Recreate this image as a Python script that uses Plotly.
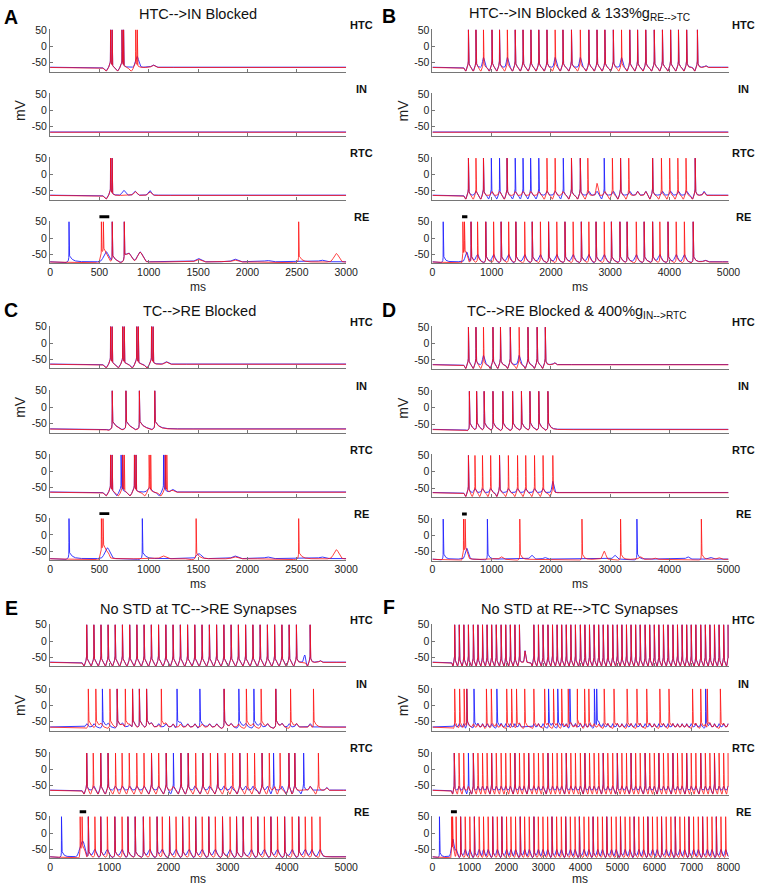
import numpy as np
import plotly.graph_objects as go

W, H = 767, 887

# ---------------- data (spike times in ms) ----------------
CELLS = ["HTC", "IN", "RTC", "RE"]
REST = {"HTC": -65, "IN": -67, "RTC": -64, "RE": -73}

# Panel A : HTC-->IN Blocked (0-3000 ms)
A_HTC_R_spk = [613, 729, 868]
A_HTC_R_sub = [(1044, 7)]
A_HTC_B_spk = [613, 729]
A_HTC_B_sub = [(882, 33), (1044, 7)]
A_IN_R_spk = []
A_IN_B_spk = []
A_RTC_R_spk = [613]
A_RTC_R_sub = [(862, 12), (1011, 10)]
A_RTC_B_spk = [613]
A_RTC_B_sub = [(746, 15), (862, 12), (1011, 14)]
A_RE_R_spk = [520, 540, 630, 752, 2519]
A_RE_R_sub = [(800, 22), (912, 30), (1500, 8), (1870, 6), (2900, 26)]
A_RE_B_spk = [192, 630, 752]
A_RE_B_sub = [(570, 32), (800, 22), (912, 30), (1500, 10), (1870, 8), (2200, 4), (2750, 5)]

# Panel B : HTC-->IN Blocked & 133% g RE-->TC (0-5000 ms)
B_HTC_R_spk = [608, 735, 862, 1006, 1133, 1265, 1398, 1530, 1663, 1796, 1934, 2072, 2204, 2348, 2497,
               2641, 2779, 2912, 3055, 3193, 3332, 3464, 3602, 3746, 3884, 4022, 4155, 4293, 4475]
B_HTC_R_sub = [(4613, 5)]
B_HTC_B_spk = [608, 735, 1006, 1133, 1398, 1530, 1663, 1796, 1934, 2204, 2348, 2641, 2779, 2912,
               3055, 3332, 3464, 3602, 3746, 3884, 4022, 4155, 4293, 4475]
B_HTC_B_sub = [(862, 30), (1265, 30), (2072, 30), (2497, 30), (3193, 30), (4613, 5)]
B_IN_R_spk = []
B_IN_B_spk = []
B_RTC_R_spk = [608, 735, 862, 1260, 1934, 2072, 2348, 2497, 2624, 3039, 3177, 3315, 3718, 3867, 4006,
               4144, 4282, 4437]
B_RTC_B_spk = [608, 862, 995, 1133, 1260, 1398, 1530, 1658, 1796, 2210, 2348, 2497, 2901, 3177, 3718, 4437]
B_RTC_R_sub = [(2779, 25), (4585, 10)]
B_RTC_B_sub = [(4585, 12)]
B_CYC = [608, 735, 862, 1006, 1133, 1265, 1398, 1530, 1663, 1796, 1934, 2072, 2204, 2348, 2497, 2641,
         2779, 2912, 3055, 3193, 3332, 3464, 3602, 3746, 3884, 4022, 4155, 4293, 4437]
B_RE_R_spk = [514, 541, 652, 762, 901, 1033, 1160, 1287, 1409, 1558, 1685, 1823, 1961, 2100, 2238, 2376,
              2514, 2641, 2763, 2901, 3022, 3166, 3287, 3442, 3575, 3718, 3840, 3978, 4116, 4254, 4403]
B_RE_R_sub = [(4600, 5)]
B_RE_B_spk = [182, 652, 901, 1160, 1409, 1685, 1961, 2238, 2514, 2763, 3022, 3166, 3287, 3575, 3718,
              3978, 4403]
B_RE_B_sub = [(580, 30), (4600, 5)]
B_RE_CYC = [762, 1033, 1287, 1558, 1823, 2100, 2376, 2641, 2901, 3442, 3840, 4116, 4254]

# Panel C : TC-->RE Blocked (0-3000 ms)
C_HTC_R_spk = [613, 736, 878, 1028]
C_HTC_R_sub = [(1177, 7)]
C_HTC_B_spk = [613, 736, 878, 1028]
C_HTC_B_sub = [(1177, 7)]
C_IN_R_spk = [630, 769, 905, 1061]
C_IN_B_spk = [630, 769, 905, 1061]
C_RTC_R_spk = [613, 736, 855, 1004, 1167]
C_RTC_R_sub = [(1240, 6)]
C_RTC_B_spk = [613, 720, 855, 1150]
C_RTC_B_sub = [(1004, 14), (1240, 8)]
C_RE_R_spk = [520, 537, 1480, 2519]
C_RE_R_sub = [(1144, 9), (1870, 6), (2900, 28)]
C_RE_B_spk = [192, 935]
C_RE_B_sub = [(580, 33), (1508, 15), (1870, 8), (2200, 5), (2750, 5)]

# Panel D : TC-->RE Blocked & 400% g IN-->RTC (0-5000 ms)
D_HTC_R_spk = [608, 735, 862, 1022, 1149, 1315, 1464, 1613, 1768, 1906]
D_HTC_R_sub = [(2061, 6)]
D_HTC_B_spk = [608, 735, 1022, 1149, 1315, 1613, 1768, 1906]
D_HTC_B_sub = [(862, 28), (1464, 28), (2061, 6)]
D_IN_R_spk = [624, 746, 873, 1022, 1188, 1354, 1503, 1646, 1796, 1950]
D_IN_B_spk = [624, 746, 873, 1022, 1188, 1354, 1503, 1646, 1796, 1950]
D_RTC_R_spk = [608, 718, 845, 983, 1133, 1282, 1437, 1575, 1724, 1868, 2033]
D_RTC_B_spk = [608, 1133]
D_RTC_B_sub = [(2033, 22)]
D_RE_R_spk = [525, 552, 1475, 2525, 3177, 4541]
D_RE_R_sub = [(1160, 8), (2900, 25), (3508, 8), (3750, 4), (4834, 5)]
D_RE_B_spk = [182, 928, 3453]
D_RE_B_sub = [(580, 33), (1674, 12), (1895, 5), (3077, 12), (4309, 7), (4696, 5)]

# Panel E : No STD at TC-->RE synapses (0-5000 ms)
E_HTC_R_spk = [619, 740, 860, 980, 1100, 1222, 1345, 1466, 1588, 1710, 1832, 1955, 2077, 2200, 2322,
               2444, 2566, 2690, 2812, 2935, 3057, 3180, 3302, 3425, 3547, 3670, 3792, 3915, 4037, 4160, 4392]
E_HTC_B_spk = [619, 740, 860, 980, 1100, 1222, 1345, 1466, 1588, 1710, 1832, 1955, 2077, 2200, 2322,
               2444, 2566, 2690, 2812, 2935, 3057, 3180, 3302, 3425, 3547, 3670, 3792, 3915, 4037, 4160, 4392]
E_HTC_B_sub = [(4300, 22), (4560, 5)]
E_HTC_R_sub = [(4560, 5)]
E_IN_R_spk = [646, 773, 1011, 1133, 1271, 1393, 1508, 1630, 1879, 2939, 3315, 3564, 3812, 4061, 4448]
E_IN_B_spk = [884, 1133, 1393, 1508, 1630, 2144, 2530, 2939, 3188, 3442, 3812]
E_RTC_R_spk = [619, 729, 856, 979, 1105, 1216, 1337, 1464, 1586, 1713, 1834, 1961, 2210, 2332, 2459,
               2580, 2707, 2829, 2956, 3083, 3204, 3332, 3453, 3580, 3702, 3884, 4033, 4133, 4531]
E_RTC_B_spk = [619, 856, 979, 1713, 1961, 2083, 2210, 2332, 2580, 2829, 3204, 3580, 3774, 4033, 4133, 4282]
E_RTC_sub = [(4670, 8)]
E_RE_R_spk = [508, 541, 646, 757, 856, 967, 1094, 1216, 1315, 1437, 1575, 1685, 1807, 1895, 2017, 2127,
              2238, 2348, 2459, 2569, 2680, 2790, 2912, 3039, 3149, 3260, 3398, 3508, 3619, 3729, 3840,
              3961, 4088, 4199, 4309, 4420, 4558]
E_RE_B_spk = [193, 646, 856, 1094, 1315, 1437, 1575, 1807, 2017, 2238, 2459, 2680, 2912, 3149, 3260,
              3508, 3729, 3961, 4199]
E_RE_B_sub = [(570, 30)]

# Panel F : No STD at RE-->TC synapses (0-8000 ms)
F_HTC_R_spk = [601, 725, 849, 972, 1105, 1229, 1353, 1476, 1600, 1724, 1856, 1980, 2104, 2228, 2351,
               2740, 2864, 2988, 3121, 3244, 3368, 3492, 3616, 3739, 3863, 3996, 4119, 4243, 4367, 4491,
               4614, 4738, 4871, 4995, 5118, 5242, 5366, 5490, 5613, 5746, 5870, 5994, 6117, 6241, 6365,
               6497, 6621, 6745, 6869, 6992, 7116, 7249, 7373, 7496, 7620, 7744, 7868, 7991]
F_HTC_B_spk = F_HTC_R_spk
F_HTC_sub = [(2502, 35)]
F_IN_R_spk = [601, 734, 857, 928, 1459, 1591, 2007, 2139, 2272, 2493, 2740, 3032, 3271, 3492, 3669, 3916,
              4111, 4226, 4641, 4906, 5260, 5525, 5790, 6144, 6391, 7028, 7249, 7426, 7779]
F_IN_B_spk = [928, 1123, 1741, 3138, 3386, 3713, 4376, 4438, 7381]
F_RTC_R_spk = [590, 718, 845, 1105, 1229, 1353, 1476, 1600, 1724, 1856, 1980, 2104, 2228, 2351, 2475,
               2600, 2740, 2864, 2988, 3121, 3244, 3368, 3492, 3616, 3739, 3863, 3996, 4119, 4243, 4367,
               4491, 4614, 4738, 4871, 4995, 5118, 5242, 5366, 5490, 5613, 5746, 5870, 5994, 6117, 6241,
               6365, 6497, 6621, 6745, 6869, 6992, 7116, 7249, 7373, 7496, 7620, 7744, 7868, 7991]
F_RTC_B_spk = [590, 972, 1105, 1600, 2228, 2600, 3121, 3616, 4119, 4614, 4995, 5366, 5746, 6117, 6497,
               6869, 7249, 7620]
F_RE_R_spk = [520, 545, 640, 762, 885, 1010, 1133, 1262, 1380, 1505, 1628, 1752, 1875, 2002, 2120, 2245,
              2372, 2490, 2615, 2742, 2860, 2985, 3112, 3230, 3355, 3482, 3600, 3725, 3852, 3970, 4095,
              4222, 4340, 4465, 4592, 4710, 4835, 4962, 5080, 5205, 5332, 5450, 5575, 5702, 5820, 5945,
              6072, 6190, 6315, 6442, 6560, 6685, 6812, 6930, 7055, 7182, 7300, 7425, 7552, 7670, 7795, 7922]
F_RE_B_spk = [190, 762, 1133, 1628, 1875, 2372, 2742, 3230, 3600, 3970, 4340, 4710, 5080, 5450, 5820,
              6190, 6560, 6930, 7300, 7670]
F_RE_B_sub = [(570, 30)]

# stimulus bars (ms) drawn above the RE traces
STIM = {"A": (500, 600), "B": (500, 590), "C": (500, 600), "D": (500, 580), "E": (500, 610), "F": (500, 660)}
DURATION = {"A": 3000, "B": 5000, "C": 3000, "D": 5000, "E": 5000, "F": 8000}
XSTEP = {"A": 500, "B": 1000, "C": 500, "D": 1000, "E": 1000, "F": 1000}
TITLES = {
    "A": "HTC-->IN Blocked",
    "B": "HTC-->IN Blocked & 133%g<sub>RE-->TC</sub>",
    "C": "TC-->RE Blocked",
    "D": "TC-->RE Blocked & 400%g<sub>IN-->RTC</sub>",
    "E": "No STD at TC-->RE Synapses",
    "F": "No STD at RE-->TC Synapses",
}

# trace specification: (spikes, subthreshold bumps, cycle times for non-spiking humps)
SPEC = {
    ("A", "HTC"): ((A_HTC_R_spk, A_HTC_R_sub, []), (A_HTC_B_spk, A_HTC_B_sub, [])),
    ("A", "IN"): ((A_IN_R_spk, [], []), (A_IN_B_spk, [], [])),
    ("A", "RTC"): ((A_RTC_R_spk, A_RTC_R_sub, []), (A_RTC_B_spk, A_RTC_B_sub, [])),
    ("A", "RE"): ((A_RE_R_spk, A_RE_R_sub, []), (A_RE_B_spk, A_RE_B_sub, [])),
    ("B", "HTC"): ((B_HTC_R_spk, B_HTC_R_sub, []), (B_HTC_B_spk, B_HTC_B_sub, [])),
    ("B", "IN"): ((B_IN_R_spk, [], []), (B_IN_B_spk, [], [])),
    ("B", "RTC"): ((B_RTC_R_spk, B_RTC_R_sub, B_CYC), (B_RTC_B_spk, B_RTC_B_sub, B_CYC)),
    ("B", "RE"): ((B_RE_R_spk, B_RE_R_sub, []), (B_RE_B_spk, B_RE_B_sub, B_RE_CYC)),
    ("C", "HTC"): ((C_HTC_R_spk, C_HTC_R_sub, []), (C_HTC_B_spk, C_HTC_B_sub, [])),
    ("C", "IN"): ((C_IN_R_spk, [], []), (C_IN_B_spk, [], [])),
    ("C", "RTC"): ((C_RTC_R_spk, C_RTC_R_sub, []), (C_RTC_B_spk, C_RTC_B_sub, [])),
    ("C", "RE"): ((C_RE_R_spk, C_RE_R_sub, []), (C_RE_B_spk, C_RE_B_sub, [])),
    ("D", "HTC"): ((D_HTC_R_spk, D_HTC_R_sub, []), (D_HTC_B_spk, D_HTC_B_sub, [])),
    ("D", "IN"): ((D_IN_R_spk, [], []), (D_IN_B_spk, [], [])),
    ("D", "RTC"): ((D_RTC_R_spk, [], []), (D_RTC_B_spk, D_RTC_B_sub, D_RTC_R_spk)),
    ("D", "RE"): ((D_RE_R_spk, D_RE_R_sub, []), (D_RE_B_spk, D_RE_B_sub, [])),
    ("E", "HTC"): ((E_HTC_R_spk, E_HTC_R_sub, []), (E_HTC_B_spk, E_HTC_B_sub, [])),
    ("E", "IN"): ((E_IN_R_spk, [], E_HTC_R_spk), (E_IN_B_spk, [], E_HTC_R_spk)),
    ("E", "RTC"): ((E_RTC_R_spk, E_RTC_sub, E_HTC_R_spk), (E_RTC_B_spk, E_RTC_sub, E_HTC_R_spk)),
    ("E", "RE"): ((E_RE_R_spk, [], []), (E_RE_B_spk, E_RE_B_sub, E_RE_R_spk)),
    ("F", "HTC"): ((F_HTC_R_spk, F_HTC_sub, []), (F_HTC_B_spk, F_HTC_sub, [])),
    ("F", "IN"): ((F_IN_R_spk, [], F_HTC_R_spk), (F_IN_B_spk, [], F_HTC_R_spk)),
    ("F", "RTC"): ((F_RTC_R_spk, [], F_HTC_R_spk), (F_RTC_B_spk, [], F_RTC_R_spk)),
    ("F", "RE"): ((F_RE_R_spk, [], []), (F_RE_B_spk, F_RE_B_sub, F_RE_R_spk)),
}

# ---------------- waveform rendering (shape style per cell type) ----------------
# amp, tau_rise, tau_decay, dip, dip_lead, dip_width, bump_width, cycle_amp, burst
KIND = {
    "HTC": (24, 9, 14, 12, 48, 22, 22, 12, 2),
    "RTC": (24, 9, 14, 12, 48, 22, 22, 12, 2),
    "IN": (26, 3, 38, 4, 40, 20, 22, 10, 1),
    "RE": (22, 4, 30, 3, 40, 20, 35, 22, 1),
}


def build(panel, cell, spk, sub, cyc, red):
    T = DURATION[panel]
    amp, tr, td, dip, lead, dw, bw, camp, nb = KIND[cell]
    if panel in "BDEF":
        nb = 1
    t = np.arange(0, T + 1, 1.0)
    v = np.full(t.shape, float(REST[cell]) + (0.0 if red else 0.8))
    for ts in spk:
        s = t - ts
        v += np.where(s < 0, amp * np.exp(np.maximum(s, -400) / tr), amp * np.exp(-np.maximum(s, 0) / td))
        v -= dip * np.exp(-((s + lead) / dw) ** 2)
    bumps = list(sub)
    for c in cyc:
        if all(abs(c - s) > 45 for s in spk):
            bumps.append((c, camp))
    for tb, a in bumps:
        v += a * np.exp(-((t - tb) / bw) ** 2)
    if cell == "RE" and red:
        t0, t1 = 500, 600
        v += 15 / (1 + np.exp(-(t - t0) / 3)) / (1 + np.exp((t - t1) / 3))
    for ts in spk:
        for k in range(nb):
            i = int(round(ts + k * 16))
            if 1 <= i < len(v) - 1:
                v[i - 1] += (50 - v[i - 1]) * 0.3
                v[i + 1] += (50 - v[i + 1]) * 0.45
                v[i] = 50
    return np.clip(v, -79, 50).astype(np.float32)


# ---------------- layout geometry (pixels) ----------------
COLX = {"A": (48, 350), "B": (438, 740), "C": (48, 350), "D": (438, 740), "E": (48, 350), "F": (438, 740)}
ROWY = {"A": 25, "B": 25, "C": 323.5, "D": 324, "E": 623.3, "F": 623.3}   # +50 mV level of HTC row
LETTER_XY = {"A": (8.5, 12), "B": (394, 11), "C": (8.5, 307), "D": (394, 307), "E": (8.5, 606), "F": (394, 605.5)}
TITLE_X = {"A": 199, "B": 588, "C": 200, "D": 585.5, "E": 199, "F": 588.5}
CELL_DY = [0, 64.5, 129, 193]
PX_MV = 0.329
YMIN, YMAX = -77.5, 53
FONT = "Arial, 'Liberation Sans', sans-serif"
AXC = "#767676"

fig = go.Figure()
layout = {}
annotations = []
shapes = []
n = 0
for panel in "ABCDEF":
    x0, x1 = COLX[panel]
    T = DURATION[panel]
    for ci, cell in enumerate(CELLS):
        n += 1
        y50 = ROWY[panel] + CELL_DY[ci]
        top = y50 - (YMAX - 50) * PX_MV
        bot = y50 + (50 - YMIN) * PX_MV
        (rs, rsub, rcyc), (bs, bsub, bcyc) = SPEC[(panel, cell)]
        vb = build(panel, cell, bs, bsub, bcyc, False)
        vr = build(panel, cell, rs, rsub, rcyc, True)
        xa, ya = f"x{n}", f"y{n}"
        fig.add_trace(go.Scatter(y=vb, x0=0, dx=1, mode="lines", line=dict(color="rgb(35,35,255)", width=0.9),
                                 xaxis=xa, yaxis=ya, hoverinfo="skip", showlegend=False))
        fig.add_trace(go.Scatter(y=vr, x0=0, dx=1, mode="lines", line=dict(color="rgba(255,15,15,0.88)", width=0.9),
                                 xaxis=xa, yaxis=ya, hoverinfo="skip", showlegend=False))
        last = cell == "RE"
        layout[f"xaxis{n}"] = dict(
            domain=[x0 / W, x1 / W], range=[0, T], anchor=ya,
            tickvals=list(range(0, T + 1, XSTEP[panel])), showticklabels=last,
            ticks="inside", ticklen=3, tickcolor=AXC, showline=True, linecolor=AXC, linewidth=1,
            showgrid=False, zeroline=False, tickfont=dict(family=FONT, size=10.5, color="#222"),
            ticklabelstandoff=-1, fixedrange=True)
        layout[f"yaxis{n}"] = dict(
            domain=[1 - bot / H, 1 - top / H], range=[YMIN, YMAX], anchor=xa,
            tickvals=[-50, 0, 50], ticktext=["-50", "0", "50"],
            ticks="inside", ticklen=3, tickcolor=AXC, showline=True, linecolor=AXC, linewidth=1,
            showgrid=False, zeroline=False, tickfont=dict(family=FONT, size=10.5, color="#222"),
            fixedrange=True)
        annotations.append(dict(text=f"<b>{cell}</b>", x=(x1 + 15.5) / W,
                                y=1 - (y50 - 5) / H, xref="paper", yref="paper", showarrow=False,
                                xanchor="center", yanchor="middle", borderpad=0,
                                font=dict(family=FONT, size=11, color="#111")))
        if cell == "IN":
            annotations.append(dict(text="mV", x=(x0 - 30) / W, y=1 - (y50 + 16.5) / H, xref="paper",
                                    yref="paper", showarrow=False, textangle=-90, xanchor="center",
                                    yanchor="middle", borderpad=0,
                                    font=dict(family=FONT, size=14, color="#222")))
        if last:
            s0, s1 = STIM[panel]
            shapes.append(dict(type="rect", xref=xa, yref="paper", x0=s0, x1=s1,
                               y0=1 - (y50 - 3.5) / H, y1=1 - (y50 - 6.5) / H,
                               fillcolor="black", line=dict(width=0)))
            annotations.append(dict(text="ms", x=(x0 + x1) / 2 / W, y=1 - min(bot + 31.5, H) / H,
                                    xref="paper", yref="paper", showarrow=False, xanchor="center",
                                    yanchor="bottom", borderpad=0,
                                    font=dict(family=FONT, size=12, color="#222")))
    lx, ly = LETTER_XY[panel]
    annotations.append(dict(text=f"<b>{panel}</b>", x=lx / W, y=1 - ly / H, xref="paper", yref="paper",
                            showarrow=False, xanchor="center", yanchor="middle", borderpad=0,
                            font=dict(family=FONT, size=19.5, color="#000")))
    annotations.append(dict(text=TITLES[panel], x=TITLE_X[panel] / W, y=1 - (ROWY[panel] - 15.5) / H,
                            xref="paper", yref="paper", showarrow=False, xanchor="center",
                            yanchor="middle", borderpad=0,
                            font=dict(family=FONT, size=14.5, color="#111")))

fig.update_layout(width=W, height=H, margin=dict(l=0, r=0, t=0, b=0), paper_bgcolor="white",
                  plot_bgcolor="white", showlegend=False, annotations=annotations, shapes=shapes, **layout)
fig.write_html("out.html", config={"displayModeBar": False},
               post_script="document.body.style.margin='0';document.body.style.padding='0';"
                           "document.body.style.overflow='hidden';")
